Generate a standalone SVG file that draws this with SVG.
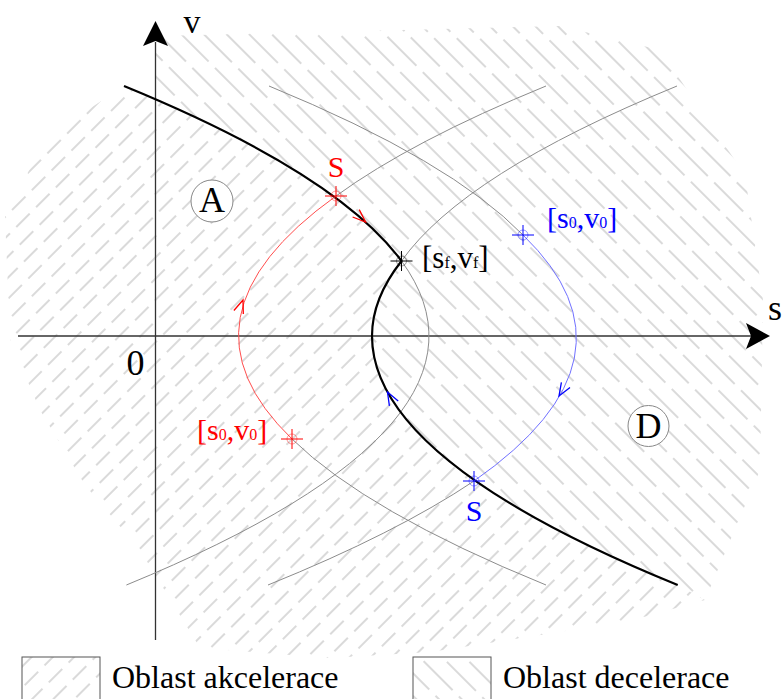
<svg xmlns="http://www.w3.org/2000/svg" width="782" height="699" viewBox="0 0 782 699">
<defs>
<style>
.t{font-family:"Liberation Serif","Times New Roman",serif}
.hl{stroke:#b5b5b5;stroke-width:1}
.gray{fill:none;stroke:#8c8c8c;stroke-width:1}
.main{fill:none;stroke:#000;stroke-width:2.2}
.red{fill:none;stroke:#ff4d4d;stroke-width:1}
.blue{fill:none;stroke:#7070ff;stroke-width:1}
.ax{stroke:#333;stroke-width:1.3}
.circ{fill:#fff;stroke:#888;stroke-width:1}
</style>
<pattern id="acc" patternUnits="userSpaceOnUse" width="45" height="28" patternTransform="rotate(45)">
<line class="hl" x1="7" y1="0" x2="7" y2="19"/>
<line class="hl" x1="22" y1="9" x2="22" y2="28"/>
<line class="hl" x1="37" y1="18" x2="37" y2="28"/>
<line class="hl" x1="37" y1="0" x2="37" y2="9"/>
</pattern>
<pattern id="dec" patternUnits="userSpaceOnUse" width="48" height="50" patternTransform="rotate(-45)">
<line class="hl" x1="8" y1="0" x2="8" y2="41"/>
<line class="hl" x1="24" y1="17" x2="24" y2="50"/>
<line class="hl" x1="24" y1="0" x2="24" y2="8"/>
<line class="hl" x1="40" y1="34" x2="40" y2="50"/>
<line class="hl" x1="40" y1="0" x2="40" y2="25"/>
</pattern>
<clipPath id="accClip"><path d="M124,86 Q337.5,173.5 401.5,261 Q372,298.5 372,336 Q372,460.5 677.7,585 L705,600 L640,618 L560,632 L430,652 L330,658 L200,648 L140,550 L85,485 L40,410 L10,340 L5,215 L40,150 L80,115 Z"/></clipPath>
<clipPath id="decClip"><path d="M155,99 Q342.3,180 401.5,261 Q372,298.5 372,336 Q372,460.5 677.7,585 L705,600 L760,470 L763,300 L745,175 L660,50 L560,26 L160,36 L155,40 Z"/></clipPath>
<g id="cross"><line x1="-11" y1="0" x2="11" y2="0"/><line x1="0" y1="-10" x2="0" y2="10"/></g>
</defs>

<g id="hatching">
<rect x="0" y="0" width="782" height="699" fill="url(#acc)" clip-path="url(#accClip)"/>
<rect x="0" y="0" width="782" height="699" fill="url(#dec)" clip-path="url(#decClip)"/>
</g>

<g id="axes">
<line class="ax" x1="18" y1="336" x2="752" y2="336"/>
<path d="M770,336 L746,323 L751,336 L746,349 Z" fill="#000"/>
<line class="ax" x1="155.5" y1="640" x2="155.5" y2="42"/>
<path d="M155.5,21 L143,46 L155.5,41 L168,46 Z" fill="#000"/>
<text class="t" x="192" y="33" font-size="34" text-anchor="middle">v</text>
<text class="t" x="768" y="320" font-size="36">s</text>
<text class="t" x="135.5" y="375" font-size="36" text-anchor="middle">0</text>
</g>

<g id="connectors">
<path class="gray" d="M401.5,261 Q520.1,423 126.4,585"/>
<path class="gray" d="M401.5,261 Q463.5,173.5 677,86"/>
<path class="gray" d="M336,196 Q411.5,141 546,86"/>
<path class="gray" d="M292,439 Q366.7,512 546,585"/>
<path class="gray" d="M523,235 Q450.75,160.5 269,86"/>
<path class="gray" d="M474,481 Q396.5,533 268,585"/>
<path class="main" d="M124,86 Q337.5,173.5 401.5,261 Q372,298.5 372,336 Q372,460.5 677.7,585"/>
<path class="red" d="M292,439 Q166.4,317.5 336,196"/>
<path class="blue" d="M523,235 Q650.2,358 474,481"/>
<path fill="none" stroke="#f00" stroke-width="1.3" d="M233.9,310.5 L243,300 L243.3,313.9"/>
<path fill="none" stroke="#f00" stroke-width="1.3" d="M352.6,217 L365.6,222 L359.2,209.6"/>
<path fill="none" stroke="#00f" stroke-width="1.3" d="M570,387.5 L559,396 L561.4,382.3"/>
<path fill="none" stroke="#00f" stroke-width="1.3" d="M398.2,401 L387.5,392 L389.4,405.8"/>
</g>

<g id="point-S-red">
<circle cx="336" cy="196" r="5" fill="none" stroke="#f00" stroke-opacity="0.4"/>
<use href="#cross" x="336" y="196" stroke="#f00" stroke-width="1"/>
<text class="t" x="336" y="177" font-size="30" fill="#f00" text-anchor="middle">S</text>
</g>
<g id="point-s0-red">
<circle cx="292" cy="439" r="5" fill="none" stroke="#f00" stroke-opacity="0.4"/>
<use href="#cross" x="292" y="439" stroke="#f00" stroke-width="1"/>
<text class="t" x="197" y="440" font-size="30" fill="#f00">[s<tspan font-size="16">0</tspan>,v<tspan font-size="16">0</tspan>]</text>
</g>
<g id="point-sf">
<circle cx="401.5" cy="261" r="5" fill="none" stroke="#000" stroke-opacity="0.4"/>
<use href="#cross" x="401.5" y="261" stroke="#000" stroke-width="1"/>
<text class="t" x="422" y="268" font-size="31">[s<tspan font-size="16">f</tspan>,v<tspan font-size="16">f</tspan>]</text>
</g>
<g id="point-s0-blue">
<circle cx="523" cy="235" r="5" fill="none" stroke="#00f" stroke-opacity="0.4"/>
<use href="#cross" x="523" y="235" stroke="#00f" stroke-width="1"/>
<text class="t" x="547" y="228" font-size="30" fill="#00f">[s<tspan font-size="16">0</tspan>,v<tspan font-size="16">0</tspan>]</text>
</g>
<g id="point-S-blue">
<circle cx="474" cy="481" r="5" fill="none" stroke="#00f" stroke-opacity="0.4"/>
<use href="#cross" x="474" y="481" stroke="#00f" stroke-width="1"/>
<text class="t" x="474" y="521" font-size="30" fill="#00f" text-anchor="middle">S</text>
</g>

<g id="region-A">
<circle class="circ" cx="212" cy="201" r="21"/>
<text class="t" x="212" y="212" font-size="36" text-anchor="middle">A</text>
</g>
<g id="region-D">
<circle class="circ" cx="648.5" cy="426" r="20.5"/>
<text class="t" x="648.5" y="438" font-size="36" text-anchor="middle">D</text>
</g>

<g id="legend-acc">
<rect x="22" y="657" width="78" height="50" fill="url(#acc)" stroke="#555" stroke-width="1"/>
<text class="t" x="112" y="688" font-size="32">Oblast akcelerace</text>
</g>
<g id="legend-dec">
<rect x="413" y="657" width="78" height="50" fill="url(#dec)" stroke="#555" stroke-width="1"/>
<text class="t" x="503" y="688" font-size="32">Oblast decelerace</text>
</g>
</svg>
